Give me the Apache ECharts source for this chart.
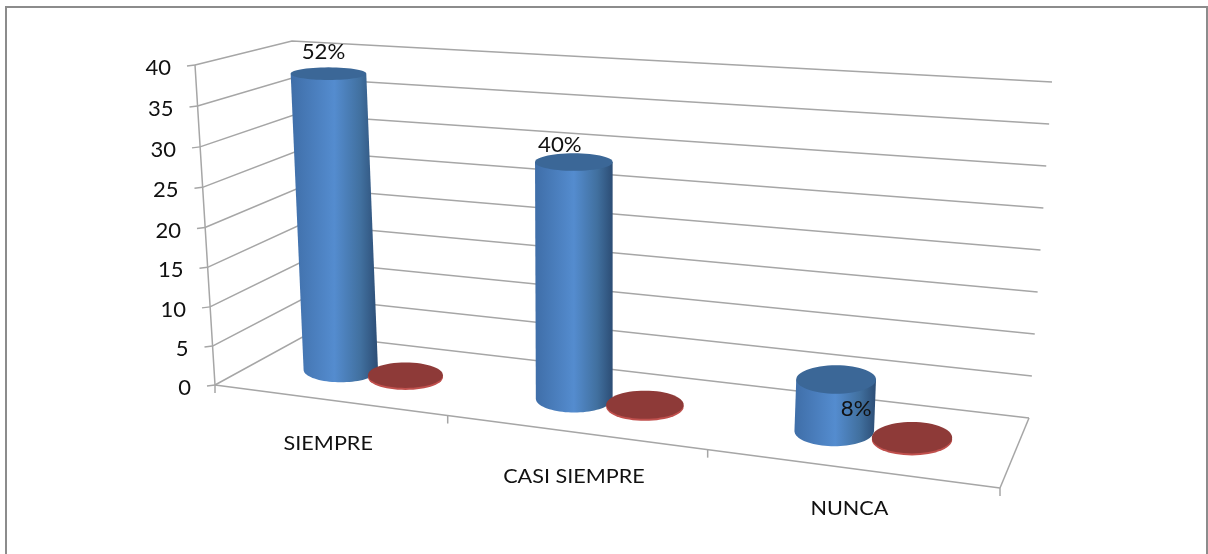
<!DOCTYPE html>
<html><head><meta charset="utf-8">
<style>html,body{margin:0;padding:0;background:#fff}#c{width:1208px;height:554px}</style>
<script src="https://cdn.jsdelivr.net/npm/echarts@6/dist/echarts.min.js"></script>
</head><body><div id="c"></div>
<script>
// ---- data ----
const categories = ['SIEMPRE', 'CASI SIEMPRE', 'NUNCA'];
const yTicks = [0, 5, 10, 15, 20, 25, 30, 35, 40];
const blueValues = [38, 29, 6];
const redValues = [0, 0, 0];
const percentLabels = ['52%', '40%', '8%'];

// ---- perspective scene (floor and ceiling quads of the 3D box: back-left, back-right, front-right, front-left) ----
const floorQuad = [[308, 334], [1029, 418], [1000, 488], [215, 385]];
const ceilQuad = [[292, 41], [1052, 82], [1023, 117], [195, 65]];
const labelOffsets = [[-5, -21], [-14, -17], [20, 30]];
const categoryDrop = [44, 44, 40];
const FONT = 'Lato, "Open Sans", sans-serif';
const GRID = '#a6a6a6';
const seriesU = { blue: -0.044, red: 0.047 };
const seriesW = { blue: 0.53, red: 0.49 };
const RU = 0.046, RW = 0.235, LEAN = 10, BULGE = 2.5;

function homography(q) {
  const [[x0, y0], [x1, y1], [x2, y2], [x3, y3]] = q;
  const dx1 = x1 - x2, dx2 = x3 - x2, sx = x0 - x1 + x2 - x3;
  const dy1 = y1 - y2, dy2 = y3 - y2, sy = y0 - y1 + y2 - y3;
  const den = dx1 * dy2 - dx2 * dy1;
  const g = (sx * dy2 - dx2 * sy) / den, h = (dx1 * sy - sx * dy1) / den;
  const a = x1 - x0 + g * x1, b = x3 - x0 + h * x3, d = y1 - y0 + g * y1, e = y3 - y0 + h * y3;
  return (u, w) => {
    const k = g * u + h * w + 1;
    return [(a * u + b * w + x0) / k, (d * u + e * w + y0) / k];
  };
}
const floorH = homography(floorQuad), ceilH = homography(ceilQuad);
function project(u, w, v) {
  const f = floorH(u, w), t = ceilH(u, w);
  return [
    f[0] + (t[0] - f[0]) * v + LEAN * 4 * u * (1 - u) * v,
    f[1] + (t[1] - f[1]) * v + BULGE * 4 * v * (1 - v) * w * (1 - u) * (1 - u)
  ];
}
// grid pixel -> normalised scene coordinates, via the chart's own axes
function norm(api, params, cat, val) {
  const p = api.coord([cat, val]), cs = params.coordSys;
  return [(p[0] - cs.x) / cs.width, 1 - (p[1] - cs.y) / cs.height];
}
function ellipsePts(cx, cy, rx, ry, from, to, n) {
  const out = [];
  for (let i = 0; i <= n; i++) {
    const t = from + (to - from) * i / n;
    out.push([cx + rx * Math.cos(t), cy + ry * Math.sin(t)]);
  }
  return out;
}
function disc(u, w, v) {
  const c = project(u, w, v);
  const l = project(u - RU, w, v), r = project(u + RU, w, v);
  const b = project(u, w - RW, v), f = project(u, w + RW, v);
  return { x: c[0], y: c[1], rx: 26.5 + 0.35 * Math.abs(r[0] - l[0]) / 2, ry: Math.abs(f[1] - b[1]) / 2 };
}
const line = (a, b, w) => ({ type: 'line', shape: { x1: a[0], y1: a[1], x2: b[0], y2: b[1] }, style: { stroke: GRID, lineWidth: w || 1.5 } });
const txt = (s, x, y, size, sx) => ({ type: 'text', x, y, scaleX: sx || 1, style: { text: s, x: 0, y: 0, fill: '#111', font: size + 'px ' + FONT, align: 'center', verticalAlign: 'middle' }, z2: 20 });

function renderWall(params, api) {
  const val = api.value(1);
  const [, v] = norm(api, params, 0, val);
  const fl = project(0, 1, v), bl = project(0, 0, v), br = project(1, 0, v);
  const children = [
    { type: 'polyline', shape: { points: [fl, bl, br] }, style: { stroke: GRID, lineWidth: 1.5, fill: 'none' } },
    line(fl, [fl[0] - 8, fl[1] + 1]),
    { type: 'text', style: { text: String(val), x: fl[0] - 24, y: fl[1] + 3, fill: '#111', font: '22px ' + FONT, align: 'right', verticalAlign: 'middle' } }
  ];
  if (params.dataIndex === 0) {
    const a = project(0, 1, 0), b = project(0, 1, 1), c = project(1, 1, 0), d = project(1, 0, 0);
    children.push(line(a, b), line(a, c), line(c, d));
    [0, 1 / 3, 2 / 3, 1].forEach(u => {
      const p = project(u, 1, 0);
      children.push(line(p, [p[0], p[1] + 8]));
    });
  }
  return { type: 'group', children };
}
function renderCategory(params, api) {
  const [u] = norm(api, params, api.value(0), 0);
  const p = project(u, 1, 0);
  return txt(categories[params.dataIndex], p[0], p[1] + categoryDrop[params.dataIndex], 20, 1.08);
}
function renderBlue(params, api) {
  const i = api.value(0);
  const [u0, v] = norm(api, params, i, api.value(1));
  const u = u0 + seriesU.blue, w = seriesW.blue;
  const b = disc(u, w, 0), t = disc(u, w, v);
  const body = [[t.x - t.rx, t.y]].concat(ellipsePts(b.x, b.y, b.rx, b.ry, Math.PI, 0, 40), [[t.x + t.rx, t.y]]);
  const off = labelOffsets[i];
  return { type: 'group', children: [
    { type: 'polygon', shape: { points: body }, style: { fill: new echarts.graphic.LinearGradient(0, 0, 1, 0, [
      { offset: 0, color: '#3f6ea8' }, { offset: 0.5, color: '#548ccf' }, { offset: 0.8, color: '#41709f' }, { offset: 1, color: '#2c4d75' }
    ]) } },
    { type: 'polygon', shape: { points: ellipsePts(t.x, t.y, t.rx, t.ry, 0, Math.PI * 2, 60) }, style: { fill: '#3b6797' } },
    txt(percentLabels[i], t.x + off[0], t.y + off[1], 21, 1.06)
  ] };
}
function renderRed(params, api) {
  const i = api.value(0);
  const [u0, v] = norm(api, params, i, api.value(1));
  const t = disc(u0 + seriesU.red, seriesW.red, v);
  return { type: 'group', children: [
    { type: 'polygon', shape: { points: ellipsePts(t.x, t.y + 2, t.rx, t.ry, 0, Math.PI * 2, 60) }, style: { fill: '#c0504d' } },
    { type: 'polygon', shape: { points: ellipsePts(t.x, t.y, t.rx, t.ry, 0, Math.PI * 2, 60) }, style: { fill: '#8e3a38' } }
  ] };
}
const catIdx = categories.map((_, i) => i);
const chart = echarts.init(document.getElementById('c'), null, { renderer: 'canvas' });
chart.setOption({
  animation: false,
  backgroundColor: '#fff',
  graphic: [{ type: 'rect', silent: true, shape: { x: 6, y: 7, width: 1201, height: 600 }, style: { fill: 'none', stroke: '#8c8c8c', lineWidth: 2 } }],
  grid: { left: 215, top: 65, width: 800, height: 320 },
  xAxis: { type: 'category', data: categories, show: false },
  yAxis: { type: 'value', min: 0, max: 40, interval: 5, show: false },
  series: [
    { type: 'custom', name: 'axes', silent: true, clip: false, z: 1, renderItem: renderWall, data: yTicks.map(t => [0, t]), encode: { x: 0, y: 1 } },
    { type: 'custom', name: 'categories', silent: true, clip: false, z: 2, renderItem: renderCategory, data: catIdx.map(i => [i, 0]), encode: { x: 0, y: 1 } },
    { type: 'custom', name: 'Serie 1', silent: true, clip: false, z: 3, renderItem: renderBlue, data: blueValues.map((v, i) => [i, v]), encode: { x: 0, y: 1 } },
    { type: 'custom', name: 'Serie 2', silent: true, clip: false, z: 4, renderItem: renderRed, data: redValues.map((v, i) => [i, v]), encode: { x: 0, y: 1 } }
  ]
});
</script></body></html>
